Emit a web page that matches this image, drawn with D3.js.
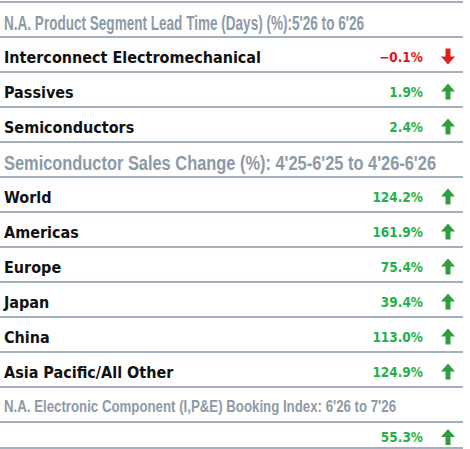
<!DOCTYPE html><html><head><meta charset="utf-8">
<script src="https://cdn.jsdelivr.net/npm/d3@7"></script>
<style>body{margin:0;background:#fff}</style></head><body><svg id="c" width="470" height="449"></svg>
<script>
const headers = ["N.A. Product Segment Lead Time (Days) (%):5'26 to 6'26","Semiconductor Sales Change (%): 4'25-6'25 to 4'26-6'26","N.A. Electronic Component (I,P&E) Booking Index: 6'26 to 7'26"];
const headerWidths = [360,432,392];
const section1Labels = ["Interconnect Electromechanical","Passives","Semiconductors"];
const section1Values = [-0.1,1.9,2.4];
const section2Labels = ["World","Americas","Europe","Japan","China","Asia Pacific/All Other"];
const section2Values = [124.2,161.9,75.4,39.4,113.0,124.9];
const section3Labels = [""];
const section3Values = [55.3];

const rows=[];
rows.push({type:"h",text:headers[0],w:headerWidths[0],h:35,size:20});
section1Labels.forEach((l,i)=>rows.push({type:"r",text:l,v:section1Values[i],h:35}));
rows.push({type:"h",text:headers[1],w:headerWidths[1],h:35,size:20});
section2Labels.forEach((l,i)=>rows.push({type:"r",text:l,v:section2Values[i],h:35}));
rows.push({type:"h",text:headers[2],w:headerWidths[2],h:35,size:17});
section3Labels.forEach((l,i)=>rows.push({type:"r",text:l,v:section3Values[i],h:26}));

const svg=d3.select("#c");
const font="'Liberation Sans',Arial,sans-serif";
const cfont="'DejaVu Sans Condensed',sans-serif";
let y=2;
const line=yy=>svg.append("line").attr("x1",0).attr("x2",463).attr("y1",yy).attr("y2",yy).attr("stroke","#8497a8").attr("stroke-width",1.5);
line(y);
const fmt=d3.format(".1f");
rows.forEach(r=>{
  if(r.type==="h"){
    svg.append("text").attr("x",4).attr("y",y+(r.size>18?28:25)).attr("font-family",font).attr("font-weight","bold").attr("font-size",r.size).attr("fill","#8c9aa8").attr("textLength",r.w).attr("lengthAdjust","spacingAndGlyphs").text(r.text);
  } else {
    const mid=y+r.h/2+2;
    if(r.text) svg.append("text").attr("x",4).attr("y",mid+6).attr("font-family",cfont).attr("font-weight","bold").attr("font-size",16).attr("fill","#111").text(r.text);
    const neg=r.v<0;
    const col=neg?"#e8141c":"#1fb24a";
    svg.append("text").attr("x",423).attr("y",mid+5).attr("text-anchor","end").attr("font-family",cfont).attr("font-weight","bold").attr("font-size",13.5).attr("fill",col).text(fmt(r.v)+"%");
    const ac=neg?"#e02020":"#2f9e3c";
    const x0=448, top=mid-8, bot=mid+8;
    const p=neg?`M${x0-2.5},${top}h5v8h4.5l-7,8l-7,-8h4.5z`:`M${x0-2.5},${bot}h5v-8h4.5l-7,-8l-7,8h4.5z`;
    svg.append("path").attr("d",p).attr("fill",ac);
  }
  y+=r.h;
  line(y);
});
</script></body></html>
